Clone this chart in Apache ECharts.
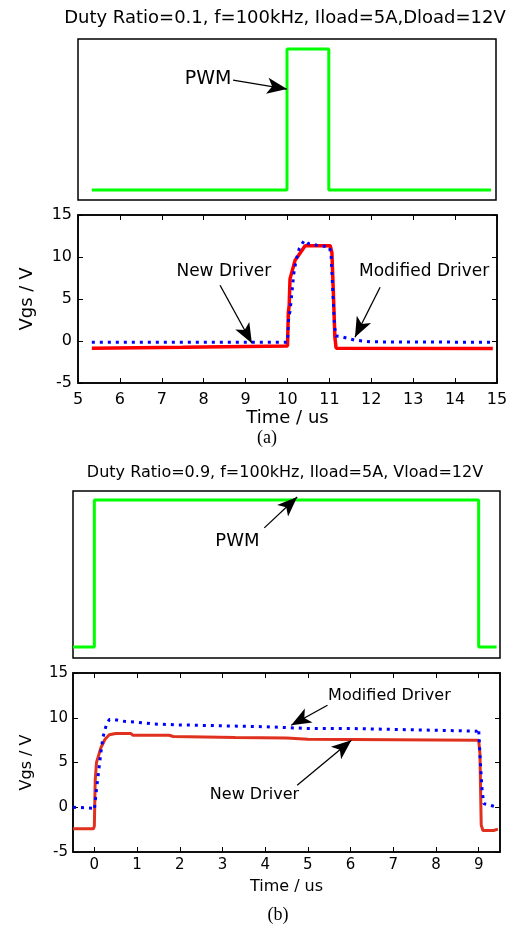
<!DOCTYPE html>
<html>
<head>
<meta charset="utf-8">
<script src="https://cdn.jsdelivr.net/npm/echarts@6/dist/echarts.min.js"></script>
<style>
html, body { margin: 0; padding: 0; background: #fff; }
#chart { width: 511px; height: 926px; }
</style>
</head>
<body>
<div id="chart"></div>
<script>
// ---- (a) Duty Ratio = 0.1 ----
var pwmA_t = [5.33, 10.0, 10.0, 11.0, 11.0, 14.88];
var pwmA_v = [0, 0, 1, 1, 0, 0];
var newA_t = [5.33, 7.5, 10.0, 10.02, 10.04, 10.06, 10.08, 10.12, 10.18, 10.25, 10.42, 11.02, 11.06, 11.1, 11.13, 11.16, 14.9];
var newA_v = [-0.85, -0.75, -0.6, 3.4, 4.2, 7.4, 7.6, 8.5, 9.6, 10.1, 11.35, 11.35, 10.5, 5.0, 0.5, -0.85, -0.9];
var modA_t = [5.33, 10.0, 10.03, 10.06, 10.1, 10.15, 10.2, 10.28, 10.4, 10.5, 10.7, 11.0, 11.04, 11.08, 11.12, 11.15, 11.3, 11.6, 12.0, 14.9];
var modA_v = [-0.15, -0.15, 3.0, 3.5, 5.5, 8.0, 9.5, 11.0, 12.0, 11.6, 11.4, 11.2, 10.3, 6.0, 2.0, 0.6, 0.5, 0.1, -0.1, -0.15];

// ---- (b) Duty Ratio = 0.9 ----
var pwmB_t = [-0.5, 0.0, 0.0, 9.0, 9.0, 9.42];
var pwmB_v = [0, 0, 1, 1, 0, 0];
var newB_t = [-0.5, -0.02, 0.0, 0.02, 0.05, 0.1, 0.15, 0.25, 0.35, 0.5, 0.85, 0.9, 1.75, 1.85, 3.3, 4.5, 5.0, 9.0, 9.03, 9.06, 9.1, 9.35, 9.45];
var newB_v = [-2.4, -2.4, -2.1, 3.0, 5.0, 5.8, 6.6, 7.6, 8.1, 8.25, 8.25, 8.05, 8.05, 7.9, 7.8, 7.75, 7.6, 7.5, 6.0, -2.0, -2.6, -2.6, -2.45];
var modB_t = [-0.5, -0.05, 0.0, 0.05, 0.1, 0.15, 0.2, 0.28, 0.35, 0.45, 0.7, 1.0, 1.4, 2.0, 3.0, 4.0, 5.0, 6.0, 7.0, 8.95, 9.0, 9.04, 9.08, 9.12, 9.2, 9.45];
var modB_v = [0.0, -0.1, -0.3, 2.0, 4.0, 6.0, 7.8, 9.2, 9.8, 9.8, 9.6, 9.5, 9.3, 9.2, 9.1, 9.0, 8.8, 8.8, 8.7, 8.5, 8.8, 5.0, 2.0, 0.4, 0.3, 0.0];
var xTicksB = [0, 1, 2, 3, 4, 5, 6, 7, 8, 9];

// annotations (text position, arrow start, arrow tip) in data units
var notesPwmA = [{ text: 'PWM', at: [8.11, 0.787], from: [8.71, 0.78], to: [10.0, 0.716] }];
var notesVgsA = [
    { text: 'New Driver', at: [8.48, 8.3], from: [8.39, 6.63], to: [9.15, -0.27] },
    { text: 'Modified Driver', at: [13.26, 8.3], from: [12.21, 6.39], to: [11.61, 0.44] }
];
var notesPwmB = [{ text: 'PWM', at: [3.35, 0.72], from: [3.98, 0.81], to: [4.75, 1.02] }];
var notesVgsB = [
    { text: 'Modified Driver', at: [6.91, 12.5], from: [5.46, 11.4], to: [4.61, 9.16] },
    { text: 'New Driver', at: [3.75, 1.34], from: [4.75, 2.46], to: [6.02, 7.49] }
];

var FONT = 'DejaVu Sans';

function pairs(t, v) {
    return t.map(function (x, i) { return [x, v[i]]; });
}

function arrows(notes) {
    return {
        silent: true,
        symbol: ['none', 'arrow'],
        symbolSize: [0, 16],
        lineStyle: { color: '#000', width: 1.3, type: 'solid' },
        label: { show: false },
        data: notes.map(function (n) {
            return [{ coord: n.from, symbol: 'none' }, { coord: n.to, symbol: 'arrow', symbolSize: [12, 20] }];
        })
    };
}

function labels(notes, size) {
    return {
        silent: true,
        symbol: 'circle',
        symbolSize: 0,
        label: { show: true, position: 'inside', formatter: '{b}', color: '#000', fontSize: size, fontFamily: FONT },
        data: notes.map(function (n) { return { name: n.text, coord: n.at }; })
    };
}

function boxGrid(l, t, w, h) {
    return { left: l, top: t, width: w, height: h, show: true, borderColor: '#000', borderWidth: 1.5, containLabel: false };
}

var tick = { show: true, inside: true, length: 5, lineStyle: { color: '#000', width: 1 } };
var edge = { show: true, onZero: false, lineStyle: { color: '#000', width: 1.5 } };

var myChart = echarts.init(document.getElementById('chart'));

option = {
    animation: false,
    backgroundColor: '#fff',
    textStyle: { fontFamily: FONT },
    grid: [
        boxGrid(78, 39, 418, 161),
        boxGrid(78, 215, 419, 168),
        boxGrid(73, 491, 427, 167),
        boxGrid(73, 673, 427, 179)
    ],
    xAxis: [
        { type: 'value', gridIndex: 0, min: 5, max: 15, show: false },
        {
            type: 'value', gridIndex: 1, min: 5, max: 15, interval: 1,
            axisLine: edge, axisTick: tick, splitLine: { show: false },
            axisLabel: { margin: 9, color: '#000', fontSize: 16, showMinLabel: true, showMaxLabel: true },
            name: 'Time / us', nameLocation: 'middle', nameGap: 25,
            nameTextStyle: { fontSize: 18, color: '#000' }
        },
        {
            type: 'value', gridIndex: 1, position: 'top', min: 5, max: 15, interval: 1,
            axisLine: edge, axisTick: tick, axisLabel: { show: false }, splitLine: { show: false }
        },
        { type: 'value', gridIndex: 2, min: -0.5, max: 9.5, show: false },
        {
            type: 'value', gridIndex: 3, min: -0.5, max: 9.5,
            axisLine: edge, splitLine: { show: false },
            axisTick: { show: true, inside: true, length: 5, lineStyle: { color: '#000', width: 1 }, customValues: xTicksB },
            axisLabel: { margin: 6, color: '#000', fontSize: 15, customValues: xTicksB },
            name: 'Time / us', nameLocation: 'middle', nameGap: 27,
            nameTextStyle: { fontSize: 16, color: '#000' }
        },
        {
            type: 'value', gridIndex: 3, position: 'top', min: -0.5, max: 9.5,
            axisLine: edge, splitLine: { show: false }, axisLabel: { show: false },
            axisTick: { show: true, inside: true, length: 5, lineStyle: { color: '#000', width: 1 }, customValues: xTicksB }
        }
    ],
    yAxis: [
        { type: 'value', gridIndex: 0, min: -0.071, max: 1.071, show: false },
        {
            type: 'value', gridIndex: 1, min: -5, max: 15, interval: 5,
            axisLine: edge, axisTick: tick, splitLine: { show: false },
            axisLabel: { margin: 6, color: '#000', fontSize: 16 },
            name: 'Vgs / V', nameLocation: 'middle', nameGap: 42,
            nameTextStyle: { fontSize: 18, color: '#000' }
        },
        {
            type: 'value', gridIndex: 1, position: 'right', min: -5, max: 15, interval: 5,
            axisLine: edge, axisTick: tick, axisLabel: { show: false }, splitLine: { show: false }
        },
        { type: 'value', gridIndex: 2, min: -0.075, max: 1.061, show: false },
        {
            type: 'value', gridIndex: 3, min: -5, max: 15, interval: 5,
            axisLine: edge, axisTick: tick, splitLine: { show: false },
            axisLabel: { margin: 5, color: '#000', fontSize: 15 },
            name: 'Vgs / V', nameLocation: 'middle', nameGap: 38,
            nameTextStyle: { fontSize: 16, color: '#000' }
        },
        {
            type: 'value', gridIndex: 3, position: 'right', min: -5, max: 15, interval: 5,
            axisLine: edge, axisTick: tick, axisLabel: { show: false }, splitLine: { show: false }
        }
    ],
    graphic: [
        { type: 'text', x: 285, y: 18, silent: true,
          style: { text: 'Duty Ratio=0.1, f=100kHz, Iload=5A,Dload=12V', fontSize: 18, fontFamily: FONT, fill: '#000', align: 'center', verticalAlign: 'middle' } },
        { type: 'text', x: 267, y: 438, silent: true,
          style: { text: '(a)', fontSize: 18, fontFamily: 'Liberation Serif', fill: '#000', align: 'center', verticalAlign: 'middle' } },
        { type: 'text', x: 285, y: 473, silent: true,
          style: { text: 'Duty Ratio=0.9, f=100kHz, Iload=5A, Vload=12V', fontSize: 16, fontFamily: FONT, fill: '#000', align: 'center', verticalAlign: 'middle' } },
        { type: 'text', x: 278, y: 915, silent: true,
          style: { text: '(b)', fontSize: 18, fontFamily: 'Liberation Serif', fill: '#000', align: 'center', verticalAlign: 'middle' } }
    ],
    series: [
        {
            name: 'PWM (a)', type: 'line', xAxisIndex: 0, yAxisIndex: 0,
            showSymbol: false, lineStyle: { color: '#00ff00', width: 3 },
            data: pairs(pwmA_t, pwmA_v),
            markLine: arrows(notesPwmA), markPoint: labels(notesPwmA, 19)
        },
        {
            name: 'New Driver (a)', type: 'line', xAxisIndex: 1, yAxisIndex: 1,
            showSymbol: false, lineStyle: { color: '#ff0000', width: 3.5 },
            data: pairs(newA_t, newA_v),
            markLine: arrows(notesVgsA), markPoint: labels(notesVgsA, 17)
        },
        {
            name: 'Modified Driver (a)', type: 'line', xAxisIndex: 1, yAxisIndex: 1,
            showSymbol: false, lineStyle: { color: '#0000ff', width: 3, type: [3, 5], cap: 'butt' },
            data: pairs(modA_t, modA_v)
        },
        {
            name: 'PWM (b)', type: 'line', xAxisIndex: 3, yAxisIndex: 3,
            showSymbol: false, lineStyle: { color: '#00ff00', width: 3 },
            data: pairs(pwmB_t, pwmB_v),
            markLine: arrows(notesPwmB), markPoint: labels(notesPwmB, 18)
        },
        {
            name: 'New Driver (b)', type: 'line', xAxisIndex: 4, yAxisIndex: 4,
            showSymbol: false, lineStyle: { color: '#e0301e', width: 3 },
            data: pairs(newB_t, newB_v),
            markLine: arrows(notesVgsB), markPoint: labels(notesVgsB, 16)
        },
        {
            name: 'Modified Driver (b)', type: 'line', xAxisIndex: 4, yAxisIndex: 4,
            showSymbol: false, lineStyle: { color: '#0000ff', width: 3, type: [3, 5], cap: 'butt' },
            data: pairs(modB_t, modB_v)
        }
    ]
};

myChart.setOption(option);
</script>
</body>
</html>
